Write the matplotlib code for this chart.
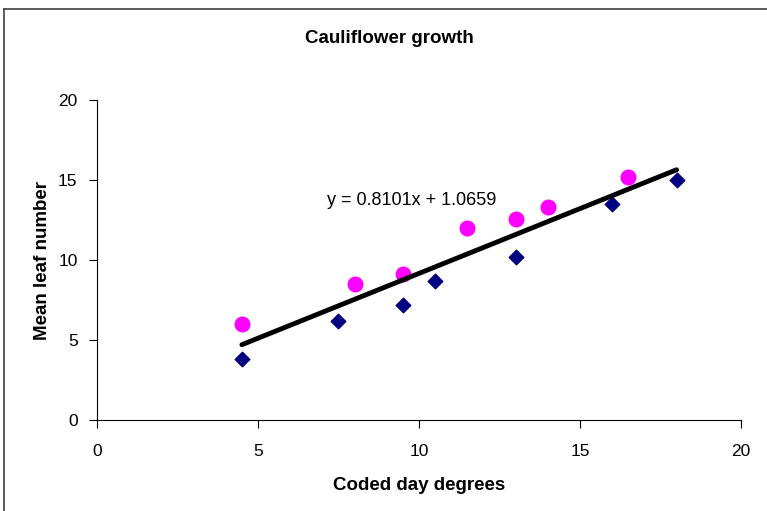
import matplotlib
matplotlib.use('Agg')
import matplotlib.pyplot as plt
from matplotlib.lines import Line2D
import numpy as np

plt.rcParams['font.family'] = ['Liberation Sans', 'DejaVu Sans']

# series 1: diamonds
x_dia = [4.5, 7.5, 9.5, 10.5, 13.0, 16.0, 18.0]
y_dia = [3.8, 6.2, 7.2, 8.7, 10.2, 13.5, 15.0]
# series 2: circles
x_cir = [4.5, 8.0, 9.5, 11.5, 13.0, 14.0, 16.5]
y_cir = [6.0, 8.5, 9.1, 12.0, 12.6, 13.3, 15.2]
# trendline
slope, intercept = 0.8101, 1.0659
trend_x = [4.5, 18.0]

fig = plt.figure(figsize=(7.67, 5.11), dpi=100)
ax = fig.add_axes([0.1265, 0.178, 0.8395, 0.626])

ax.scatter(x_dia, y_dia, marker='D', s=55, color='#000080', zorder=3)
ax.scatter(x_cir, y_cir, marker='o', s=110, color='#FF00FF', zorder=3)
tx = np.array(trend_x)
ax.plot(tx, slope * tx + intercept, color='black', lw=3.5, solid_capstyle='round', zorder=4)
ax.text(9.77, 13.7, 'y = 0.8101x + 1.0659', fontsize=13, ha='center', va='center')

ax.set_xlim(0, 20)
ax.set_ylim(0, 20)
ax.set_xticks([0, 5, 10, 15, 20])
ax.set_yticks([0, 5, 10, 15, 20])
ax.tick_params(direction='out', length=6, labelsize=12.5)
ax.tick_params(axis='x', pad=11)
ax.tick_params(axis='y', pad=8)
ax.spines['top'].set_visible(False)
ax.spines['right'].set_visible(False)
ax.set_xlabel('Coded day degrees', fontsize=13.5, fontweight='bold', labelpad=13)
ax.set_ylabel('Mean leaf number', fontsize=13.5, fontweight='bold', labelpad=5)
fig.text(0.508, 0.925, 'Cauliflower growth', fontsize=13.5, fontweight='bold', ha='center', va='center')

# outer chart border
fig.add_artist(Line2D([0.005, 1.0], [0.983, 0.983], color='#404040', lw=1.2, transform=fig.transFigure))
fig.add_artist(Line2D([0.005, 0.005], [0.0, 0.983], color='#404040', lw=1.2, transform=fig.transFigure))

plt.savefig('out.png', dpi=100, facecolor='white')
